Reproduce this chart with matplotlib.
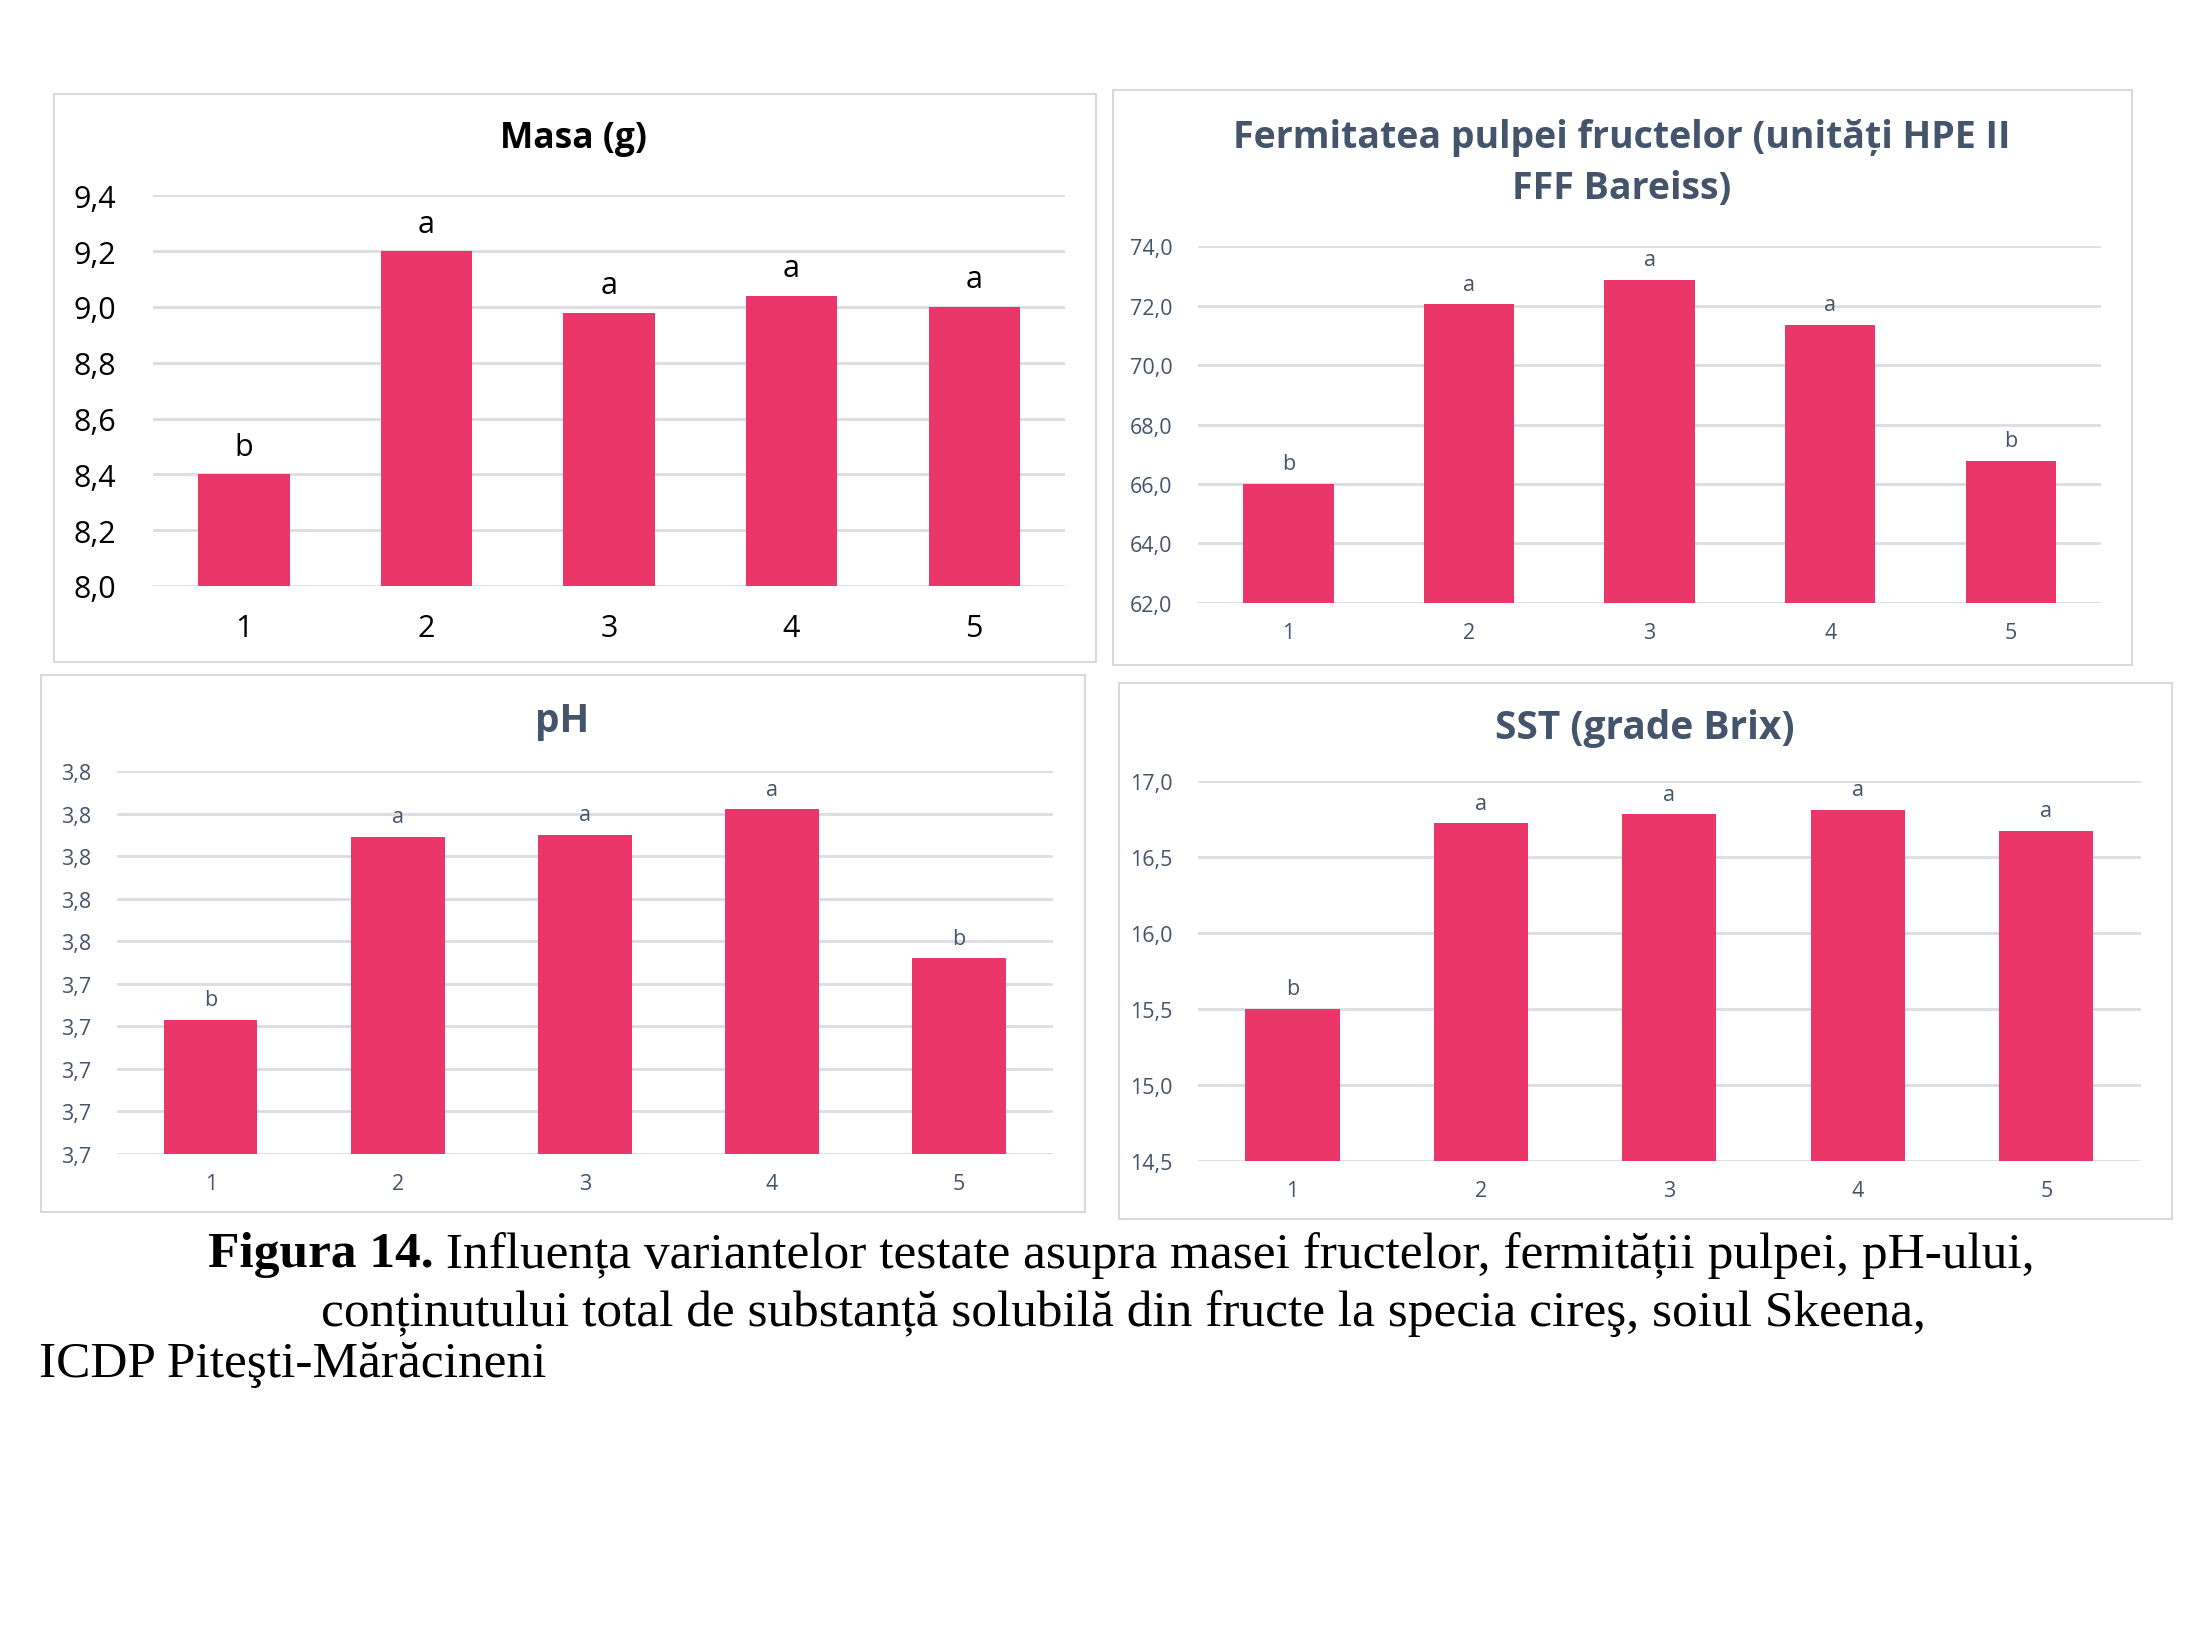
import numpy as np
import matplotlib
matplotlib.use("Agg")
import matplotlib.pyplot as plt
from matplotlib.patches import Rectangle
from matplotlib.ticker import MultipleLocator, FuncFormatter

# data
variants = ["1", "2", "3", "4", "5"]

masa = [8.40, 9.20, 8.98, 9.04, 9.00]
masa_letters = ["b", "a", "a", "a", "a"]

fermitate = [66.0, 72.05, 72.88, 71.35, 66.78]
fermitate_letters = ["b", "a", "a", "a", "b"]

ph = [3.723, 3.809, 3.810, 3.822, 3.752]
ph_letters = ["b", "a", "a", "a", "b"]

sst = [15.50, 16.72, 16.78, 16.81, 16.67]
sst_letters = ["b", "a", "a", "a", "a"]

BAR = "#EB3669"
GRID = "#DCDCE2"
SLATE = "#44546A"
FONT = "Open Sans"

plt.rcParams["font.family"] = [FONT, "DejaVu Sans"]

fig = plt.figure(figsize=(21.9, 16.4), dpi=100)


def comma(v, pos):
    return f"{v:.1f}".replace(".", ",")


def panel(box, axbox, values, letters, ylim, step, title, title_xy,
          tick_size, title_size, color, letter_off):
    # light frame round each chart, like the Excel chart area
    fig.patches.append(Rectangle((box[0], box[1]), box[2], box[3],
                                 transform=fig.transFigure, fill=False,
                                 edgecolor="#D9D9D9", linewidth=1.5))
    ax = fig.add_axes(axbox)
    x = np.arange(len(values))
    ax.bar(x, np.array(values) - ylim[0], bottom=ylim[0], width=0.5,
           color=BAR, zorder=3)
    ax.set_xlim(-0.5, len(values) - 0.5)
    ax.set_ylim(*ylim)
    ax.yaxis.set_major_locator(MultipleLocator(step))
    ax.yaxis.set_major_formatter(FuncFormatter(comma))
    ax.grid(axis="y", color=GRID, linewidth=2, zorder=0)
    ax.set_xticks(x)
    ax.set_xticklabels(variants)
    for s in ax.spines.values():
        s.set_visible(False)
    ax.tick_params(length=0, labelsize=tick_size, labelcolor=color)
    ax.tick_params(axis="x", pad=tick_size * 0.9)
    ax.tick_params(axis="y", pad=tick_size * 1.2)
    for xi, v, lab in zip(x, values, letters):
        ax.annotate(lab, (xi, v), xytext=(0, letter_off),
                    textcoords="offset points", ha="center", va="bottom",
                    fontsize=tick_size, color=color)
    fig.text(title_xy[0], title_xy[1], title, ha="center", va="center",
             fontsize=title_size, fontweight="bold", color=color,
             linespacing=1.45)
    return ax


panel((0.0245, 0.5957, 0.4761, 0.3465), (0.0697, 0.6422, 0.4168, 0.2380),
      masa, masa_letters, (8.0, 9.4), 0.2, "Masa (g)", (0.262, 0.9155),
      22, 25.5, "black", 9)

panel((0.5084, 0.5940, 0.4651, 0.3508), (0.5471, 0.6319, 0.4123, 0.2172),
      fermitate, fermitate_letters, (62.0, 74.0), 2.0,
      "Fermitatea pulpei fructelor (unități HPE II\nFFF Bareiss)",
      (0.7406, 0.9004), 15.5, 27, SLATE, 7)

panel((0.0187, 0.2603, 0.4768, 0.3276), (0.0535, 0.2957, 0.4271, 0.2336),
      ph, ph_letters, (3.66, 3.84), 0.02, "pH", (0.2568, 0.5603),
      15.5, 28, SLATE, 7)

panel((0.5110, 0.2560, 0.4806, 0.3268), (0.5471, 0.2914, 0.4303, 0.2319),
      sst, sst_letters, (14.5, 17.0), 0.5, "SST (grade Brix)",
      (0.7510, 0.5560), 15.5, 28, SLATE, 7)

# caption, Times-like serif, first words in bold
serif = "Liberation Serif"
cap = 37
renderer = fig.canvas.get_renderer()
t1 = fig.text(0, 0.2345, "Figura 14.", fontsize=cap, family=serif,
              fontweight="bold", va="center", ha="left")
t2 = fig.text(0, 0.2345,
              " Influența variantelor testate asupra masei fructelor, "
              "fermității pulpei, pH-ului,",
              fontsize=cap, family=serif, va="center", ha="left")
w1 = t1.get_window_extent(renderer).width / fig.bbox.width
w2 = t2.get_window_extent(renderer).width / fig.bbox.width
x0 = 0.512 - (w1 + w2) / 2
t1.set_x(x0)
t2.set_x(x0 + w1)
fig.text(0.513, 0.199,
         "conținutului total de substanță solubilă din fructe la specia "
         "cireş, soiul Skeena,",
         fontsize=cap, family=serif, va="center", ha="center")
fig.text(0.018, 0.168, "ICDP Piteşti-Mărăcineni", fontsize=cap,
         family=serif, va="center", ha="left")

fig.savefig("out.png", dpi=100, facecolor="white")
